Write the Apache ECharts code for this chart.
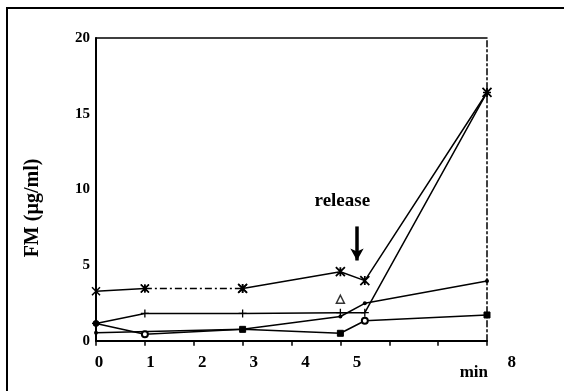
<!DOCTYPE html>
<html><head><meta charset="utf-8">
<script src="https://cdn.jsdelivr.net/npm/echarts@6/dist/echarts.min.js"></script>
<style>html,body{margin:0;padding:0;background:#fff}#c{width:564px;height:391px}</style>
</head><body><div id="c"></div>
<script>
// ---- data ----
const timesA = [0, 1, 3, 5, 5.5, 8];
const valuesA = [3.27, 3.45, 3.45, 4.56, 3.97, 16.4];
const timesB = [0, 1, 3, 5, 5.5, 8];
const valuesB = [1.14, 1.8, 1.8, 1.85, 1.85, 16.4];
const timesC = [0, 1, 3, 5, 5.5, 8];
const valuesC = [1.14, 0.42, 0.75, 0.49, 1.32, 1.7];
const timesD = [0, 3, 5, 5.5, 8];
const valuesD = [0.53, 0.75, 1.6, 2.47, 3.95];
const triangleTime = [5];
const triangleValue = [2.74];
const dotTimes = [5, 5, 5];
const dotValues = [1.48, 1.15, 0.89];
const xTickLabels = ['0', '1', '2', '3', '4', '5', '', '', '8'];
const yTicks = [0, 5, 10, 15, 20];
const releaseText = 'release';
const releaseAt = [5.04, 9.2];
const arrowFrom = [5.34, 7.55];
const arrowTo = [5.34, 5.3];
const yTitle = 'FM (µg/ml)';
const xUnit = 'min';

const pairs = (xs, ys) => xs.map((x, i) => [x, ys[i]]);
const font = 'Liberation Serif';
const black = '#000';
const asterisk = 'path://M0,0L10,10M10,0L0,10M5,0L5,10';
const plus = 'path://M0,5L10,5M5,0L5,10';
const symC = ['circle', 'emptyCircle', 'rect', 'rect', 'emptyCircle', 'rect'];

const A = pairs(timesA, valuesA);
const lineBase = (data, extra) => Object.assign({
  type: 'line', data, xAxisIndex: 0, yAxisIndex: 0, animation: false,
  lineStyle: {color: black, width: 1.5}, itemStyle: {color: black},
  symbolSize: 5
}, extra);

const chart = echarts.init(document.getElementById('c'), null, {renderer: 'canvas'});
chart.setOption({
  backgroundColor: '#fff',
  grid: [
    {left: 96, right: 77, top: 38, bottom: 50.3},
    {left: 99, right: 52.2, top: 38, bottom: 50.3}
  ],
  xAxis: [
    {gridIndex: 0, type: 'value', min: 0, max: 8, interval: 1, position: 'bottom',
     axisLine: {lineStyle: {color: black, width: 2}}, axisTick: {show: true, length: 5, lineStyle: {color: black, width: 1.5}},
     axisLabel: {show: false}, splitLine: {show: false}},
    {gridIndex: 0, type: 'value', min: 0, max: 8, position: 'top',
     axisLine: {show: true, onZero: false, lineStyle: {color: black, width: 1.5}}, axisTick: {show: false},
     axisLabel: {show: false}, splitLine: {show: false}},
    {gridIndex: 1, type: 'value', min: 0, max: 8, interval: 1, position: 'bottom',
     axisLine: {show: false}, axisTick: {show: false}, splitLine: {show: false},
     axisLabel: {show: true, margin: 13, color: black, fontFamily: font, fontWeight: 'bold', fontSize: 17,
       formatter: v => xTickLabels[Math.round(v)] || ''}}
  ],
  yAxis: [
    {gridIndex: 0, type: 'value', min: 0, max: 20, interval: 5, position: 'left',
     axisLine: {show: true, lineStyle: {color: black, width: 2}}, axisTick: {show: false},
     splitLine: {show: false},
     axisLabel: {margin: 6, color: black, fontFamily: font, fontWeight: 'bold', fontSize: 15,
       formatter: v => yTicks.indexOf(v) >= 0 ? String(v) : ''}},
    {gridIndex: 0, type: 'value', min: 0, max: 20, position: 'right',
     axisLine: {show: true, onZero: false, lineStyle: {color: black, width: 1.5, type: [6, 3, 2, 3]}},
     axisTick: {show: false}, axisLabel: {show: false}, splitLine: {show: false}},
    {gridIndex: 1, type: 'value', min: 0, max: 20, show: false}
  ],
  graphic: [
    {type: 'rect', shape: {x: 7, y: 8, width: 600, height: 420}, style: {fill: 'none', stroke: black, lineWidth: 2}, silent: true},
    {type: 'text', x: 33, y: 208, rotation: Math.PI / 2,
     style: {text: yTitle, fill: black, font: 'bold 20px "' + font + '"', textAlign: 'center', textVerticalAlign: 'middle'}},
    {type: 'text', x: 488, y: 373,
     style: {text: xUnit, fill: black, font: 'bold 17px "' + font + '"', textAlign: 'right', textVerticalAlign: 'middle'}}
  ],
  series: [
    lineBase(A.slice(0, 2), {symbol: asterisk, symbolSize: 8,
      itemStyle: {color: 'none', borderColor: black, borderWidth: 1.5}}),
    lineBase(A.slice(1, 3), {symbol: asterisk, symbolSize: 8,
      lineStyle: {color: black, width: 1.5, type: [7, 3, 2, 3]},
      itemStyle: {color: 'none', borderColor: black, borderWidth: 1.5}}),
    lineBase(A.slice(2), {symbol: asterisk, symbolSize: 9,
      itemStyle: {color: 'none', borderColor: black, borderWidth: 1.8},
      markLine: {silent: true, symbol: ['none', 'arrow'], symbolSize: [10, 12],
        lineStyle: {color: black, width: 3.5, type: 'solid'}, label: {show: false},
        data: [[{coord: arrowFrom}, {coord: arrowTo}]]},
      markPoint: {silent: true, symbol: 'circle', symbolSize: 0,
        label: {show: true, position: 'inside', formatter: releaseText, color: black,
          fontFamily: font, fontWeight: 'bold', fontSize: 19},
        data: [{coord: releaseAt, value: 0}]}}),
    lineBase(pairs(timesB, valuesB), {symbol: plus, symbolSize: 8,
      itemStyle: {color: 'none', borderColor: black, borderWidth: 1.3}}),
    lineBase(pairs(timesC, valuesC), {symbol: (v, p) => symC[p.dataIndex], symbolSize: 6,
      itemStyle: {color: black, borderColor: black, borderWidth: 1}}),
    lineBase(pairs(timesD, valuesD), {symbol: 'circle', symbolSize: 4}),
    {type: 'scatter', data: pairs(triangleTime, triangleValue), symbol: 'triangle', symbolSize: 8, animation: false,
     itemStyle: {color: '#fff', borderColor: black, borderWidth: 1.5}},
    {type: 'scatter', data: pairs(dotTimes, dotValues), symbol: 'emptyCircle', symbolSize: 5, animation: false,
     itemStyle: {color: '#fff', borderColor: black, borderWidth: 1.5}}
  ]
});
</script></body></html>
